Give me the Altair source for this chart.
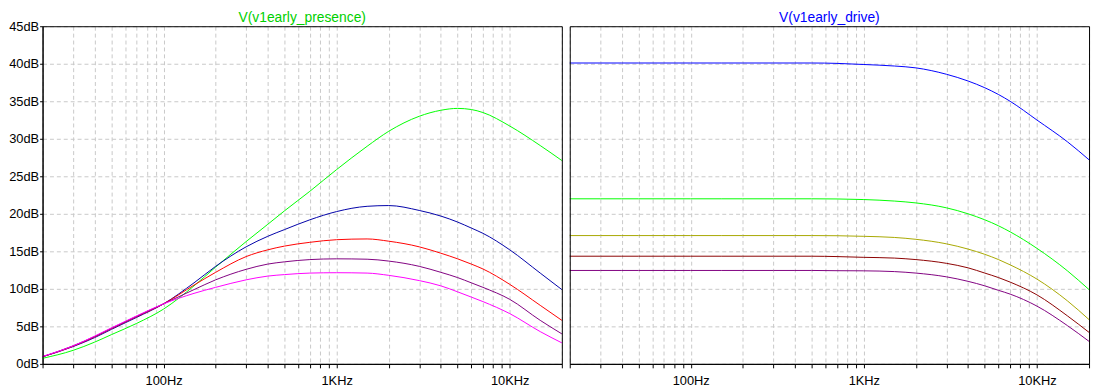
import altair as alt
import pandas as pd

# ---------------- data ----------------
freq = [20, 30, 40, 50, 70, 100, 150, 200, 300, 400, 500, 700,
        1000, 1500, 2000, 3000, 4000, 5000, 6000, 7000, 10000, 15000, 20000]

# V(v1early_presence)
pres_green   = [0.74, 1.8, 2.9, 3.9, 5.4, 7.3, 10.4, 12.9, 16.3, 18.6, 20.4, 23.0,
                25.9, 29.0, 31.0, 33.0, 33.8, 34.05, 33.9, 33.5, 31.7, 29.1, 27.1]
pres_blue    = [0.95, 2.3, 3.5, 4.6, 6.2, 8.0, 10.8, 13.0, 15.6, 17.0, 17.9, 19.2,
                20.3, 21.0, 21.1, 20.45, 19.7, 18.9, 18.1, 17.4, 15.2, 12.1, 9.9]
pres_red     = [0.95, 2.35, 3.6, 4.7, 6.3, 8.0, 10.5, 12.2, 14.3, 15.2, 15.7, 16.2,
                16.55, 16.65, 16.35, 15.6, 14.75, 14.0, 13.3, 12.65, 10.6, 7.8, 5.8]
pres_purple  = [0.95, 2.4, 3.65, 4.75, 6.35, 8.0, 9.9, 11.2, 12.6, 13.3, 13.6, 13.9,
                14.0, 13.95, 13.7, 13.0, 12.2, 11.5, 10.8, 10.2, 8.6, 5.8, 4.0]
pres_magenta = [1.0, 2.4, 3.7, 4.8, 6.4, 8.0, 9.4, 10.2, 11.2, 11.7, 11.9, 12.1,
                12.15, 12.1, 11.8, 11.1, 10.4, 9.6, 8.9, 8.3, 6.7, 4.3, 2.8]

# V(v1early_drive)
drive_blue   = [40.1, 40.1, 40.1, 40.1, 40.1, 40.1, 40.1, 40.1, 40.1, 40.1, 40.1, 40.05,
                39.9, 39.7, 39.45, 38.6, 37.7, 36.8, 35.9, 35.0, 32.5, 29.6, 27.2]
drive_green  = [22.0, 22.0, 22.0, 22.0, 22.0, 22.0, 22.0, 22.0, 22.0, 22.0, 22.0, 21.98,
                21.9, 21.7, 21.45, 20.8, 20.0, 19.2, 18.4, 17.6, 15.4, 12.4, 9.9]
drive_olive  = [17.1, 17.1, 17.1, 17.1, 17.1, 17.1, 17.1, 17.1, 17.1, 17.1, 17.1, 17.08,
                17.0, 16.85, 16.6, 16.0, 15.3, 14.6, 13.9, 13.2, 11.3, 8.4, 5.9]
drive_darkred = [14.35, 14.35, 14.35, 14.35, 14.35, 14.35, 14.35, 14.35, 14.35, 14.35, 14.35, 14.3,
                 14.2, 14.1, 13.9, 13.4, 12.8, 12.1, 11.5, 10.9, 9.2, 6.4, 4.2]
drive_purple = [12.45, 12.45, 12.45, 12.45, 12.45, 12.45, 12.45, 12.45, 12.45, 12.45, 12.45, 12.42,
                12.4, 12.3, 12.1, 11.6, 11.0, 10.4, 9.8, 9.3, 7.7, 5.1, 3.0]

pres_names = ["p_green", "p_blue", "p_red", "p_purple", "p_magenta"]
pres_colors = ["#00ff00", "#0000a8", "#ff0000", "#800080", "#ff00ff"]
drive_names = ["d_blue", "d_green", "d_olive", "d_darkred", "d_purple"]
drive_colors = ["#0000ff", "#00ff00", "#a8a800", "#8b0000", "#800080"]

titles = ["V(v1early_presence)", "V(v1early_drive)"]
title_colors = ["#00d000", "#0000ff"]

x_ticks = [20, 30, 40, 50, 60, 70, 80, 90,
           100, 200, 300, 400, 500, 600, 700, 800, 900,
           1000, 2000, 3000, 4000, 5000, 6000, 7000, 8000, 9000,
           10000, 20000]
y_ticks = [0, 5, 10, 15, 20, 25, 30, 35, 40, 45]

FONT = "Liberation Sans"
W = 526
H = 342


def make_df(names, series):
    rows = []
    for name, vals in zip(names, series):
        for f, v in zip(freq, vals):
            rows.append({"series": name, "freq": f, "db": v})
    return pd.DataFrame(rows)


pres_df = make_df(pres_names, [pres_green, pres_blue, pres_red, pres_purple, pres_magenta])
drive_df = make_df(drive_names, [drive_blue, drive_green, drive_olive, drive_darkred, drive_purple])

x_label_expr = ("datum.value == 100 ? '100Hz' : datum.value == 1000 ? '1KHz' : "
                "datum.value == 10000 ? '10KHz' : ''")

GRID = dict(grid=True, gridColor="#c8c8c8", gridDash=[4, 3], gridWidth=1)


def panel(df, names, colors, title, title_color, show_y):
    x_axis = alt.Axis(values=x_ticks, labelExpr=x_label_expr, title=None,
                      tickColor="black", tickSize=4, tickWidth=1,
                      domainColor="black", labelFont=FONT, labelFontSize=13,
                      labelColor="black", labelPadding=7, labelFlush=False,
                      labelOverlap=False, **GRID)
    if show_y:
        y_axis = alt.Axis(values=y_ticks, labelExpr="datum.value + 'dB'", title=None,
                          tickColor="black", tickSize=3, tickWidth=1,
                          domainColor="black", labelFont=FONT, labelFontSize=13,
                          labelColor="black", labelPadding=1, labelFlush=False,
                          labelOverlap=False, minExtent=34, maxExtent=34, **GRID)
    else:
        y_axis = alt.Axis(values=y_ticks, title=None, labels=False, ticks=False,
                          domain=False, **GRID)
    lines = alt.Chart(df).mark_line(strokeWidth=1, interpolate="monotone").encode(
        x=alt.X("freq:Q", scale=alt.Scale(type="log", domain=[20, 20000], nice=False),
                axis=x_axis),
        y=alt.Y("db:Q", scale=alt.Scale(domain=[0, 45], nice=False, zero=False),
                axis=y_axis),
        color=alt.Color("series:N", scale=alt.Scale(domain=names, range=colors),
                        legend=None),
        detail="series:N",
    )
    one = pd.DataFrame({"k": [0]})
    frame = alt.Chart(one).mark_rect(
        fill="transparent", stroke="black", strokeWidth=1
    ).encode(
        x=alt.value(0.5), x2=alt.value(W + 0.5),
        y=alt.value(0.5), y2=alt.value(H + 0.5),
    )
    head = alt.Chart(one).mark_text(
        font=FONT, fontSize=14, color=title_color, align="center",
        baseline="alphabetic"
    ).encode(
        x=alt.value(W / 2), y=alt.value(-4), text=alt.value(title),
    )
    return alt.layer(lines, frame, head).properties(width=W, height=H)


left = panel(pres_df, pres_names, pres_colors, titles[0], title_colors[0], True)
right = panel(drive_df, drive_names, drive_colors, titles[1], title_colors[1], False)

chart = alt.hconcat(left, right, spacing=2).resolve_scale(
    color="independent"
).properties(
    padding={"left": 0, "top": 0, "right": 0, "bottom": 0},
    background="white",
).configure_view(stroke="transparent")

chart.save("out.html", embed_options={"renderer": "svg", "actions": False})
